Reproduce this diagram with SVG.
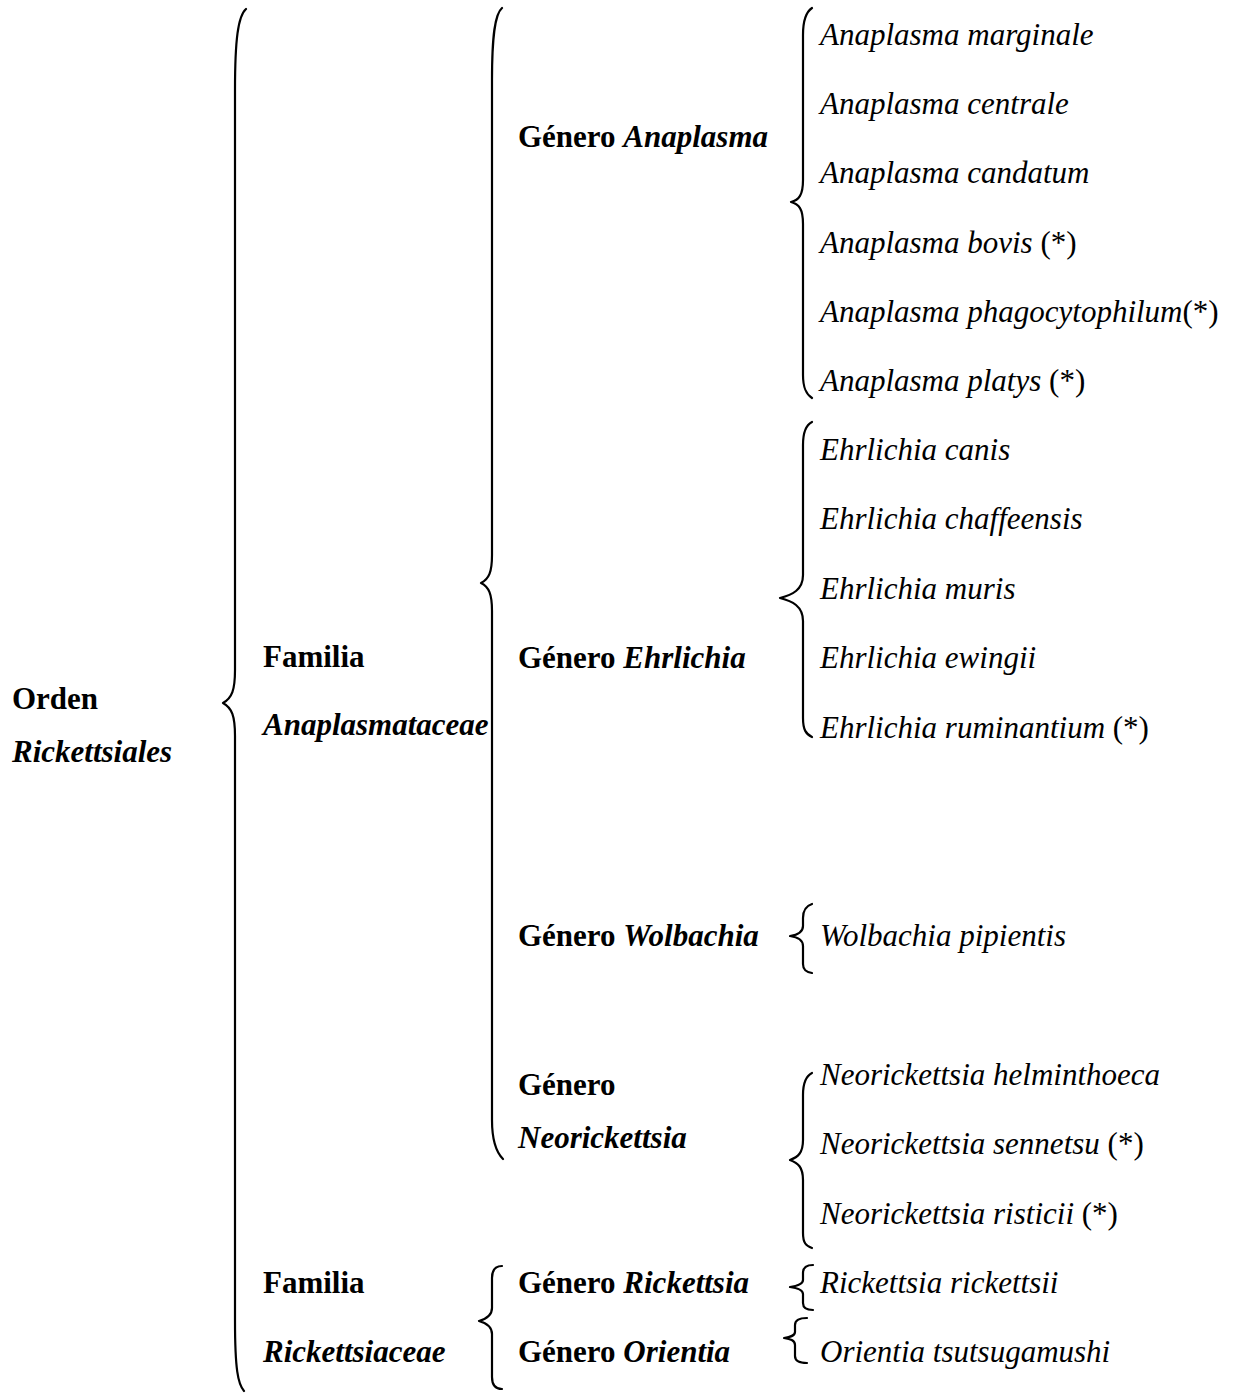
<svg xmlns="http://www.w3.org/2000/svg" width="1239" height="1393" viewBox="0 0 1239 1393">
<style>
text{font-family:"Liberation Serif","Times New Roman",serif;font-size:31px;fill:#000}
.b{font-weight:bold}
.i{font-style:italic}
.n{font-style:normal}
.br{fill:none;stroke:#000;stroke-width:2.2;stroke-linecap:round;stroke-linejoin:round}
</style>
<rect width="1239" height="1393" fill="#fff"/>
<g id="connectors">
<path class="br" d="M246,9 C238,16 235,40 235,90 L235,670 C235,690 232,698 223,703 C232,708 235,716 235,736 L235,1320 C235,1370 238,1384 244,1391"/>
<path class="br" d="M502,8 C495,14 492,35 492,80 L492,555 C492,572 489,579 481,583 C489,587 492,594 492,611 L492,1120 C492,1140 496,1152 503,1159"/>
<path class="br" d="M812,8 C806,12 803,20 803,35 L803,180 C803,195 799,200 791,202 C799,204 803,209 803,224 L803,375 C803,388 806,394 812,398"/>
<path class="br" d="M812,422 C806,425 803,432 803,445 L803,575 C803,590 792,595 780,598 C792,601 803,606 803,621 L803,718 C803,730 806,734 812,737"/>
<path class="br" d="M812,904 C806,906 803,911 803,918 L803,926 C803,932 797,935 790,936 C797,937 803,940 803,946 L803,964 C803,970 806,972 812,973"/>
<path class="br" d="M812,1073 C806,1076 803,1083 803,1095 L803,1140 C803,1153 798,1157 790,1160 C798,1163 803,1167 803,1180 L803,1233 C803,1243 806,1246 812,1248"/>
<path class="br" d="M813,1265 C806,1265 803,1268 803,1273 L803,1280 C803,1284 797,1286 790,1287 C797,1288 803,1290 803,1294 L803,1303 C803,1308 806,1310 813,1310"/>
<path class="br" d="M807,1318 C800,1318 795,1320 795,1325 L795,1332 C795,1336 790,1337 784,1338 C790,1339 795,1340 795,1345 L795,1356 C795,1361 800,1363 807,1363"/>
<path class="br" d="M502,1266 C495,1266 492,1270 492,1278 L492,1308 C492,1316 486,1319 479,1321 C486,1323 492,1326 492,1334 L492,1377 C492,1385 495,1389 502,1389"/>
</g>
<g id="orden">
<text x="12" y="709" class="b">Orden</text>
<text x="12" y="762" class="b i">Rickettsiales</text>
</g>
<g id="familia-anaplasmataceae">
<text x="263" y="667" class="b">Familia</text>
<text x="263" y="735" class="b i">Anaplasmataceae</text>
</g>
<g id="familia-rickettsiaceae">
<text x="263" y="1293" class="b">Familia</text>
<text x="263" y="1362" class="b i">Rickettsiaceae</text>
</g>
<g id="genero-anaplasma"><text x="518" y="147" class="b">Género <tspan class="i">Anaplasma</tspan></text></g>
<g id="genero-ehrlichia"><text x="518" y="668" class="b">Género <tspan class="i">Ehrlichia</tspan></text></g>
<g id="genero-wolbachia"><text x="518" y="946" class="b">Género <tspan class="i">Wolbachia</tspan></text></g>
<g id="genero-neorickettsia">
<text x="518" y="1095" class="b">Género</text>
<text x="518" y="1148" class="b i">Neorickettsia</text>
</g>
<g id="genero-rickettsia"><text x="518" y="1293" class="b">Género <tspan class="i">Rickettsia</tspan></text></g>
<g id="genero-orientia"><text x="518" y="1362" class="b">Género <tspan class="i">Orientia</tspan></text></g>
<g id="especies-anaplasma">
<text x="820" y="45" class="i">Anaplasma marginale</text>
<text x="820" y="114" class="i">Anaplasma centrale</text>
<text x="820" y="183" class="i">Anaplasma candatum</text>
<text x="820" y="253" class="i">Anaplasma bovis <tspan class="n">(*)</tspan></text>
<text x="820" y="322" class="i">Anaplasma phagocytophilum<tspan class="n">(*)</tspan></text>
<text x="820" y="391" class="i">Anaplasma platys <tspan class="n">(*)</tspan></text>
</g>
<g id="especies-ehrlichia">
<text x="820" y="460" class="i">Ehrlichia canis</text>
<text x="820" y="529" class="i">Ehrlichia chaffeensis</text>
<text x="820" y="599" class="i">Ehrlichia muris</text>
<text x="820" y="668" class="i">Ehrlichia ewingii</text>
<text x="820" y="738" class="i">Ehrlichia ruminantium <tspan class="n">(*)</tspan></text>
</g>
<g id="especies-wolbachia"><text x="820" y="946" class="i">Wolbachia pipientis</text></g>
<g id="especies-neorickettsia">
<text x="820" y="1085" class="i">Neorickettsia helminthoeca</text>
<text x="820" y="1154" class="i">Neorickettsia sennetsu <tspan class="n">(*)</tspan></text>
<text x="820" y="1224" class="i">Neorickettsia risticii <tspan class="n">(*)</tspan></text>
</g>
<g id="especies-rickettsia"><text x="820" y="1293" class="i">Rickettsia rickettsii</text></g>
<g id="especies-orientia"><text x="820" y="1362" class="i">Orientia tsutsugamushi</text></g>
</svg>
